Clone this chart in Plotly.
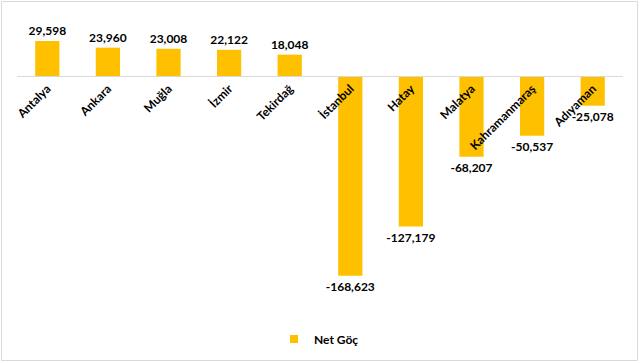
import plotly.graph_objects as go

cities = ["Antalya", "Ankara", "Muğla", "İzmir", "Tekirdağ", "İstanbul", "Hatay", "Malatya", "Kahramanmaraş", "Adıyaman"]
net_goc = [29598, 23960, 23008, 22122, 18048, -168623, -127179, -68207, -50537, -25078]
series_name = "Net Göç"

W, H = 640, 363
L, R, T, B = 17, 17, 20, 73
ymin, ymax = -180700, 47300
plot_h = H - T - B
plot_w = W - L - R
zero_pos = (0 - ymin) / (ymax - ymin)

font_family = "Lato, 'Open Sans', sans-serif"
bar_color = "#FFC000"

fig = go.Figure()
fig.add_trace(go.Bar(
    x=cities, y=net_goc, name=series_name, showlegend=False,
    marker=dict(color=bar_color, line=dict(width=0)),
    text=[f"{v:,}" for v in net_goc], textposition="outside",
    constraintext="none",
    textfont=dict(family=font_family, size=12, color="#000000", weight="bold"),
    cliponaxis=False,
))
# legend entry with small square swatch
fig.add_trace(go.Scatter(
    x=[None], y=[None], mode="markers", name=series_name,
    marker=dict(symbol="square", size=8, color=bar_color),
))

def px(xp):
    return (xp - L) / plot_w

def py(yp):
    return (H - B - yp) / plot_h

fig.add_shape(type="rect", xref="paper", yref="paper",
              x0=px(1.5), x1=px(637.5), y0=py(360.5), y1=py(1.5),
              line=dict(color="#D9D9D9", width=1), fillcolor="rgba(0,0,0,0)", layer="below")

fig.update_layout(
    width=W, height=H,
    margin=dict(l=L, r=R, t=T, b=B, autoexpand=False),
    paper_bgcolor="white", plot_bgcolor="white",
    bargap=0.6,
    showlegend=True,
    legend=dict(orientation="h", x=px(274), xanchor="left", y=py(339), yanchor="middle",
                itemwidth=30,
                font=dict(family=font_family, size=12, color="#000000", weight="bold")),
    font=dict(family=font_family, color="#000000"),
    xaxis=dict(anchor="free", position=zero_pos, showline=True, linecolor="#D9D9D9", linewidth=1,
               ticks="", tickangle=-45, showgrid=False, zeroline=False, automargin=False,
               tickfont=dict(family=font_family, size=12, color="#000000", weight="bold")),
    yaxis=dict(range=[ymin, ymax], visible=False, showgrid=False, zeroline=False, automargin=False),
)

fig.write_html("out.html",
               config={"displayModeBar": False},
               post_script="document.body.style.margin='0';document.body.style.overflow='hidden';")
